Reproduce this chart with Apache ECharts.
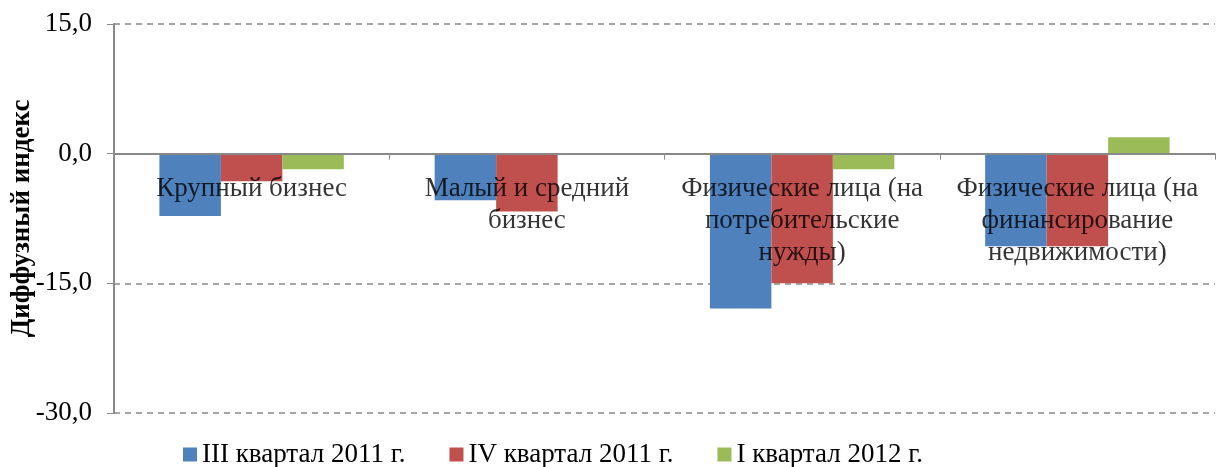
<html>
<head>
    <meta charset="utf-8">
    <title>Диффузный индекс</title>
    <script src="https://cdn.jsdelivr.net/npm/echarts@6/dist/echarts.min.js"></script>
</head>
<body style="margin:0">
<div id="main" style="width:1219px;height:467px;"></div>
<script type="text/javascript">
// категории (подписи оси X)
var categories = [
    'Крупный бизнес',
    'Малый и средний\nбизнес',
    'Физические лица (на\nпотребительские\nнужды)',
    'Физические лица (на\nфинансирование\nнедвижимости)'
];
var seriesNames = ['III квартал 2011 г.', 'IV квартал 2011 г.', 'I квартал 2012 г.'];
var q3_2011 = [-7.2, -5.4, -17.9, -10.7];
var q4_2011 = [-3.2, -6.7, -15.0, -10.7];
var q1_2012 = [-1.8, 0, -1.8, 1.9];
var yTicks = { min: -30, max: 15, step: 15 };

var font = 'Liberation Serif, Times New Roman, serif';
var myChart = echarts.init(document.getElementById('main'));

// подписи категорий рисуем у нулевой линии (ось пересекает 0)
var labelPoints = categories.map(function (c, i) { return [i, 0]; });

var option = {
    animation: false,
    color: ['#4F81BD', '#C0504D', '#9BBB59'],
    textStyle: { fontFamily: font },
    grid: { left: 114, right: 4, top: 24, bottom: 54, containLabel: false, outerBoundsMode: 'none' },
    legend: {
        left: 178,
        top: 436,
        itemWidth: 14,
        itemHeight: 14,
        itemGap: 44,
        icon: 'rect',
        textStyle: { fontFamily: font, fontSize: 27, color: '#000' },
        data: seriesNames
    },
    xAxis: {
        type: 'category',
        data: categories,
        axisLine: { onZero: true, lineStyle: { color: '#898989', width: 2 } },
        axisTick: { show: true, length: 6, lineStyle: { color: '#898989' } },
        axisLabel: { show: false },
        z: 10
    },
    yAxis: {
        type: 'value',
        min: yTicks.min,
        max: yTicks.max,
        interval: yTicks.step,
        name: 'Диффузный индекс',
        nameLocation: 'middle',
        nameGap: 78,
        nameMoveOverlap: false,
        nameTextStyle: { fontFamily: font, fontSize: 27, fontWeight: 'bold', color: '#000' },
        axisLine: { show: true, lineStyle: { color: '#898989', width: 2 } },
        axisTick: { show: true, length: 7, lineStyle: { color: '#898989' } },
        axisLabel: {
            fontFamily: font,
            fontSize: 27,
            color: '#000',
            margin: 22,
            formatter: function (v) { return v.toFixed(1).replace('.', ','); }
        },
        splitLine: { lineStyle: { type: [6, 5], color: '#898989', width: 1.5 } }
    },
    series: [
        { name: seriesNames[0], type: 'bar', data: q3_2011, barGap: '0%', barCategoryGap: '33%' },
        { name: seriesNames[1], type: 'bar', data: q4_2011, barGap: '0%', barCategoryGap: '33%' },
        { name: seriesNames[2], type: 'bar', data: q1_2012, barGap: '0%', barCategoryGap: '33%' },
        {
            type: 'scatter',
            data: labelPoints,
            symbolSize: 0,
            silent: true,
            z: 20,
            label: {
                show: true,
                position: 'bottom',
                distance: 19,
                fontFamily: font,
                fontSize: 27,
                lineHeight: 32,
                color: '#000',
                align: 'center',
                formatter: function (p) { return categories[p.dataIndex]; }
            }
        }
    ]
};
myChart.setOption(option);
</script>
</body>
</html>
